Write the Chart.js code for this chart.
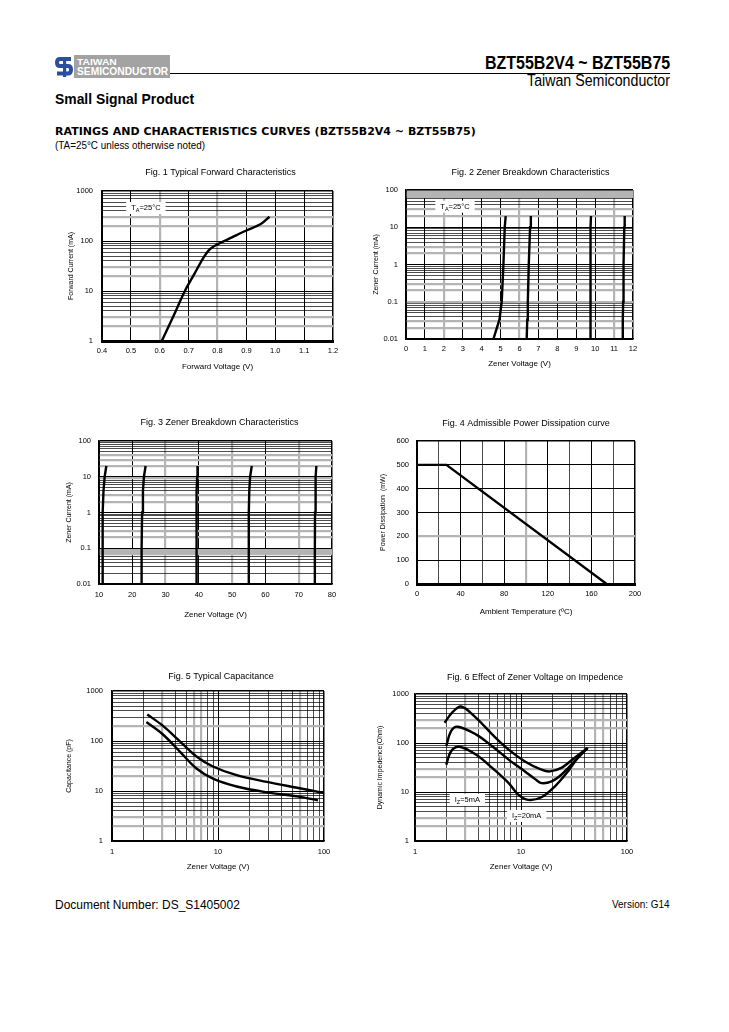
<!DOCTYPE html>
<html>
<head>
<meta charset="utf-8">
<script src="https://cdn.jsdelivr.net/npm/chart.js@4.4.1/dist/chart.umd.min.js"></script>
<style>
  body { margin: 0; background: #fff; width: 729px; height: 1032px; position: relative; overflow: hidden;
         font-family: "Liberation Sans", Arial, sans-serif; color: #000; }
  .t { position: absolute; white-space: nowrap; line-height: 1; }
  canvas { position: absolute; }
</style>
</head>
<body>

<!-- header -->
<svg style="position:absolute;left:55px;top:56px" width="18" height="22" viewBox="0 0 18 22">
  <path d="M16 3 H5 Q2 3 2 6.5 Q2 10 5 10 H13 Q16 10 16 13.5 Q16 17.5 13 17.5 H2" fill="none" stroke="#2b4f9e" stroke-width="4"/>
  <rect x="8" y="1" width="3.2" height="20" fill="#2b4f9e"/>
</svg>
<div style="position:absolute;left:74px;top:55px;width:96px;height:23px;background:#a3a3a3"></div>
<div class="t" data-w="40" style="left:77px;top:57px;font-size:9.5px;font-weight:bold;color:#fff">TAIWAN</div>
<div class="t" data-w="91" style="left:77px;top:67px;font-size:10px;font-weight:bold;color:#fff">SEMICONDUCTOR</div>
<div style="position:absolute;left:170px;top:73px;width:500px;height:1px;background:#000"></div>
<div class="t" data-w="185" data-r="1" style="right:59px;top:52.5px;font-size:19px;font-weight:bold">BZT55B2V4 ~ BZT55B75</div>
<div class="t" data-w="143" data-r="1" style="right:59px;top:73px;font-size:16px">Taiwan Semiconductor</div>
<div class="t" data-w="139" style="left:55px;top:90.5px;font-size:15px;font-weight:bold">Small Signal Product</div>
<div class="t" data-w="421" style="left:55px;top:125.5px;font-size:11px;font-weight:bold;font-family:'DejaVu Sans',sans-serif">RATINGS AND CHARACTERISTICS CURVES (BZT55B2V4 ~ BZT55B75)</div>
<div class="t" data-w="150" style="left:55px;top:141px;font-size:10px">(TA=25°C unless otherwise noted)</div>

<canvas id="fig1" width="280" height="212" style="left:67px;top:160px"></canvas>
<canvas id="fig2" width="275" height="209" style="left:372px;top:160px"></canvas>
<canvas id="fig3" width="281" height="210" style="left:65px;top:410px"></canvas>
<canvas id="fig4" width="270" height="207" style="left:379px;top:410px"></canvas>
<canvas id="fig5" width="273" height="210" style="left:65px;top:662px"></canvas>
<canvas id="fig6" width="265" height="210" style="left:376px;top:662px"></canvas>

<!-- footer -->
<div class="t" data-w="185" style="left:55px;top:897.5px;font-size:13px">Document Number: DS_S1405002</div>
<div class="t" data-w="58" data-r="1" style="right:59px;top:898.5px;font-size:11px">Version: G14</div>

<script>
// Fig. 1 Typical Forward Characteristics
const fig1Voltage = [0.607, 0.65, 0.687, 0.72, 0.75, 0.773, 0.80, 0.85, 0.90, 0.95, 0.98];
const fig1Current = [1, 3.4, 10, 22, 45, 68, 86, 118, 162, 218, 305];
const fig1VoltageTicks = [0.4, 0.5, 0.6, 0.7, 0.8, 0.9, 1.0, 1.1, 1.2];
const fig1CurrentLabels = [1, 10, 100, 1000];

// Fig. 2 Zener Breakdown Characteristics (low voltage)
const fig2Current = [0.01, 0.033, 0.1, 1, 10, 20];
const fig2Curve1 = [4.62, 4.94, 5.06, 5.15, 5.22, 5.27];
const fig2Curve2 = [6.38, 6.41, 6.44, 6.49, 6.56, 6.60];
const fig2Curve3 = [9.74, 9.74, 9.75, 9.76, 9.77, 9.78];
const fig2Curve4 = [11.45, 11.46, 11.48, 11.50, 11.54, 11.56];
const fig2VoltageTicks = [0, 1, 2, 3, 4, 5, 6, 7, 8, 9, 10, 11, 12];
const zenerCurrentLabels = [0.01, 0.1, 1, 10, 100];

// Fig. 3 Zener Breakdown Characteristics (high voltage)
const fig3Current = [0.01, 0.1, 1, 4, 10, 20];
const fig3Curve1 = [11.0, 11.05, 11.15, 11.35, 11.7, 12.2];
const fig3Curve2 = [22.7, 22.8, 22.95, 23.2, 23.5, 24.0];
const fig3Curve3 = [39.2, 39.25, 39.3, 39.4, 39.5, 39.6];
const fig3Curve4 = [54.9, 54.95, 55.05, 55.15, 55.4, 55.9];
const fig3Curve5 = [74.8, 74.85, 74.9, 75.0, 75.15, 75.3];
const fig3VoltageTicks = [10, 20, 30, 40, 50, 60, 70, 80];

// Fig. 4 Admissible Power Dissipation curve
const fig4Temperature = [0, 27, 174];
const fig4Power = [500, 500, 0];
const fig4TempGrid = [0, 20, 40, 60, 80, 100, 120, 140, 160, 180, 200];
const fig4TempLabels = [0, 40, 80, 120, 160, 200];
const fig4PowerTicks = [0, 100, 200, 300, 400, 500, 600];

// Fig. 5 Typical Capacitance
const fig5UpperVoltage = [2.15, 2.99, 4.32, 6.22, 8.96, 15, 28.9, 55.8, 98];
const fig5UpperCap = [340, 205, 101, 49.6, 30.9, 20.7, 15.2, 11.6, 9.2];
const fig5LowerVoltage = [2.11, 2.99, 4.32, 6.22, 8.96, 15, 28.9, 55.8, 87.7];
const fig5LowerCap = [240, 138, 62.9, 28.5, 17.7, 12.3, 9.4, 7.8, 6.5];
const decadeLabels1to100 = [1, 10, 100];
const decadeLabels1to1000 = [1, 10, 100, 1000];

// Fig. 6 Effect of Zener Voltage on Impedence
const fig6TopVoltage = [1.90, 2.25, 2.72, 3.75, 5.35, 7.65, 10.9, 15.6, 18.7, 24, 31.9, 42.5];
const fig6TopImp = [260, 420, 556, 330, 150, 73, 42, 28.5, 26.3, 31, 49.6, 79.6];
const fig6MidVoltage = [1.97, 2.19, 2.53, 3.75, 5.35, 7.65, 10.9, 13.6, 15.6, 19.4, 24, 31.9, 42.5];
const fig6MidImp = [86, 175, 215, 150, 86, 45.8, 26.3, 18.3, 15.2, 16.4, 22.5, 42, 79.6];
const fig6LowVoltage = [1.97, 2.19, 2.62, 3.75, 5.35, 7.65, 9.48, 11.7, 15.6, 20.8, 27.7, 34.3, 42.5];
const fig6LowImp = [36, 68, 83.6, 58, 31, 15.2, 8.7, 6.9, 7.8, 12.9, 26.3, 49.6, 79.6];

const FONT = "'Liberation Sans', Arial, sans-serif";
Chart.defaults.font.family = FONT;
Chart.defaults.color = '#000';

function logGrid(min, max) {
  const out = [];
  for (let e = Math.round(Math.log10(min)); e < Math.round(Math.log10(max)); e++) {
    for (let m = 1; m < 10; m++) out.push(+(m * Math.pow(10, e)).toPrecision(3));
  }
  out.push(max);
  return out;
}
const same = (a, b) => a === b || (b !== 0 && Math.abs(a / b - 1) < 1e-6);
const has = (list, v) => list.some(l => same(l, v));
const pts = (xs, ys) => xs.map((x, i) => ({ x, y: ys[i] }));

function axis(o) {
  const horiz = o.pos === 'x';
  return {
    type: o.log ? 'logarithmic' : 'linear',
    position: horiz ? 'bottom' : 'left',
    min: o.grid[0], max: o.grid[o.grid.length - 1],
    afterBuildTicks: s => { s.ticks = o.grid.map(v => ({ value: v })); },
    afterFit: s => { if (horiz) s.height = o.size; else s.width = o.size; },
    ticks: {
      autoSkip: false, maxRotation: 0, padding: o.pad,
      font: { size: 7.5 }, color: '#000',
      callback: v => has(o.labels, v) ? (o.fmt ? o.fmt(v) : String(v)) : ''
    },
    grid: {
      drawTicks: false,
      color: c => {
        const v = c.tick ? c.tick.value : 0;
        if (same(v, o.grid[0]) || same(v, o.grid[o.grid.length - 1])) return '#000';
        if (o.band && v >= o.band) return '#b4b4b4';
        return has(o.gray || [], v) ? '#b4b4b4' : '#000';
      },
      lineWidth: c => {
        const v = c.tick ? c.tick.value : 0;
        if (same(v, o.grid[o.grid.length - 1])) return 1.5;
        if (o.band && v >= o.band) return 4;
        if (has(o.gray || [], v)) return 2.2;
        return has(o.labels, v) ? 1 : 0.7;
      }
    },
    border: { color: '#000', width: o.border || 1.5 },
    title: { display: true, text: o.title, color: '#000', padding: 0,
             font: { size: horiz ? 8 : 7 } }
  };
}

const figTitle = {
  id: 'figTitle',
  afterDraw(chart, args, opts) {
    const { ctx, chartArea: a } = chart;
    ctx.save();
    ctx.font = '9px ' + FONT;
    ctx.fillStyle = '#000';
    ctx.textAlign = 'center';
    ctx.textBaseline = 'middle';
    ctx.fillText(opts.text, (a.left + a.right) / 2 + (opts.dx || 0), opts.y);
    ctx.restore();
  }
};

const notes = {
  id: 'notes',
  afterDatasetsDraw(chart, args, opts) {
    if (!opts.items) return;
    const { ctx, scales } = chart;
    ctx.save();
    opts.items.forEach(n => {
      const px = scales.x.getPixelForValue(n.x), py = scales.y.getPixelForValue(n.y);
      ctx.font = '7.5px ' + FONT;
      const w1 = ctx.measureText(n.main).width;
      ctx.font = '5.5px ' + FONT;
      const w2 = ctx.measureText(n.sub).width;
      ctx.font = '7.5px ' + FONT;
      const w3 = ctx.measureText(n.rest).width;
      const w = w1 + w2 + w3;
      ctx.fillStyle = '#fff';
      ctx.fillRect(px - w / 2 - 5, py - 6, w + 10, 12);
      ctx.fillStyle = '#000';
      ctx.textBaseline = 'middle';
      ctx.textAlign = 'left';
      let x = px - w / 2;
      ctx.fillText(n.main, x, py); x += w1;
      ctx.font = '5.5px ' + FONT;
      ctx.fillText(n.sub, x, py + 2.5); x += w2;
      ctx.font = '7.5px ' + FONT;
      ctx.fillText(n.rest, x, py);
    });
    ctx.restore();
  }
};

function line(data, tension) {
  return { data, borderColor: '#000', backgroundColor: '#000', borderWidth: 2.4,
           pointRadius: 0, showLine: true, fill: false, tension: tension || 0 };
}

function make(id, pad, title, x, y, datasets, items) {
  new Chart(document.getElementById(id), {
    type: 'scatter',
    data: { datasets },
    options: {
      responsive: false, animation: false, devicePixelRatio: 1,
      layout: { padding: { top: pad.top, right: pad.right, left: 0, bottom: 0 } },
      plugins: { legend: { display: false }, tooltip: { enabled: false },
                 figTitle: title, notes: { items: items || [] } },
      scales: { x: axis(Object.assign({ pos: 'x' }, x)), y: axis(Object.assign({ pos: 'y' }, y)) }
    },
    plugins: [figTitle, notes]
  });
}

make('fig1', { top: 31, right: 14 },
  { text: 'Fig. 1 Typical Forward Characteristics', y: 13, dx: 3 },
  { grid: fig1VoltageTicks, labels: fig1VoltageTicks, fmt: v => v.toFixed(1), gray: [0.6, 0.8],
    size: 31, pad: 5, border: 3, title: 'Forward Voltage (V)' },
  { log: true, grid: logGrid(1, 1000), labels: fig1CurrentLabels, gray: [2, 3, 20, 30, 200, 300],
    size: 35, pad: 9, border: 2, title: 'Forward Current (mA)' },
  [line(pts(fig1Voltage, fig1Current), 0.3)],
  [{ x: 0.552, y: 457, main: 'T', sub: 'A', rest: '=25°C' }]);

make('fig2', { top: 30, right: 14 },
  { text: 'Fig. 2 Zener Breakdown Characteristics', y: 13, dx: 11 },
  { grid: fig2VoltageTicks, labels: fig2VoltageTicks, gray: [2, 6, 11],
    size: 30, pad: 5, title: 'Zener Voltage (V)' },
  { log: true, grid: logGrid(0.01, 100), labels: zenerCurrentLabels, band: 65,
    gray: [0.02, 0.03, 0.1, 0.2, 0.3, 2, 3, 20, 30],
    size: 34, pad: 8, title: 'Zener Current (mA)' },
  [fig2Curve1, fig2Curve2, fig2Curve3, fig2Curve4].map(c => line(pts(c, fig2Current))),
  [{ x: 2.59, y: 35.6, main: 'T', sub: 'A', rest: '=25°C' }]);

make('fig3', { top: 31, right: 14 },
  { text: 'Fig. 3 Zener Breakdown Characteristics', y: 13, dx: 4 },
  { grid: fig3VoltageTicks, labels: fig3VoltageTicks, gray: [30, 50, 70],
    size: 36, pad: 6, title: 'Zener Voltage (V)' },
  { log: true, grid: logGrid(0.01, 100), labels: zenerCurrentLabels,
    gray: [0.07, 0.08, 0.09, 0.2, 0.3, 2, 3, 9, 20, 30, 40],
    size: 34, pad: 8, title: 'Zener Current (mA)' },
  [fig3Curve1, fig3Curve2, fig3Curve3, fig3Curve4, fig3Curve5].map(c => line(pts(c, fig3Current))));

make('fig4', { top: 31, right: 14 },
  { text: 'Fig. 4 Admissible Power Dissipation curve', y: 14, dx: 0 },
  { grid: fig4TempGrid, labels: fig4TempLabels, gray: [100],
    size: 33, pad: 5, border: 3, title: 'Ambient Temperature (ºC)' },
  { grid: fig4PowerTicks, labels: fig4PowerTicks, gray: [200],
    size: 38, pad: 8, border: 2, title: 'Power Dissipation  (mW)' },
  [line(pts(fig4Temperature, fig4Power))]);

make('fig5', { top: 29, right: 14 },
  { text: 'Fig. 5 Typical Capacitance', y: 15, dx: 3 },
  { log: true, grid: logGrid(1, 100), labels: decadeLabels1to100, gray: [3, 6, 7, 60],
    size: 31, pad: 6, title: 'Zener Voltage (V)' },
  { log: true, grid: logGrid(1, 1000), labels: decadeLabels1to1000, gray: [2, 3, 20, 30, 200],
    size: 47, pad: 9, title: 'Capacitance (pF)' },
  [line(pts(fig5UpperVoltage, fig5UpperCap), 0.35), line(pts(fig5LowerVoltage, fig5LowerCap), 0.35)]);

make('fig6', { top: 32, right: 14 },
  { text: 'Fig. 6 Effect of Zener Voltage on Impedence', y: 16, dx: 14 },
  { log: true, grid: logGrid(1, 100), labels: decadeLabels1to100, gray: [3, 50, 60],
    size: 31, pad: 6, title: 'Zener Voltage (V)' },
  { log: true, grid: logGrid(1, 1000), labels: decadeLabels1to1000, gray: [2, 3, 20, 30, 200, 300],
    size: 39, pad: 6, title: 'Dynamic Impedence(Ohm)' },
  [line(pts(fig6TopVoltage, fig6TopImp), 0.35), line(pts(fig6MidVoltage, fig6MidImp), 0.35),
   line(pts(fig6LowVoltage, fig6LowImp), 0.35)],
  [{ x: 3.12, y: 6.9, main: 'I', sub: 'Z', rest: '=5mA' },
   { x: 11.3, y: 3.24, main: 'I', sub: 'Z', rest: '=20mA' }]);

// squeeze header/footer text to the widths measured on the page
document.querySelectorAll('[data-w]').forEach(el => {
  const k = +el.dataset.w / el.scrollWidth;
  el.style.transformOrigin = el.dataset.r ? 'right center' : 'left center';
  el.style.transform = 'scaleX(' + k.toFixed(3) + ')';
});
</script>
</body>
</html>
